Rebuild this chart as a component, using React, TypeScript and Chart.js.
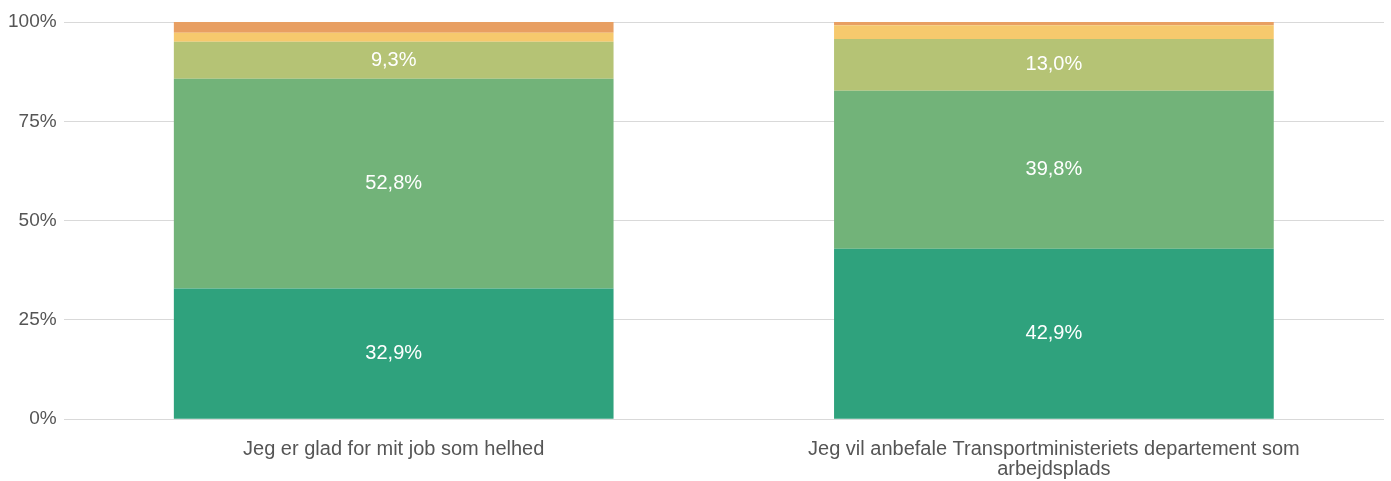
import React, { useEffect, useRef } from "react";
import { Chart, registerables } from "chart.js";

Chart.register(...registerables);

const categories: (string | string[])[] = [
  "Jeg er glad for mit job som helhed",
  ["Jeg vil anbefale Transportministeriets departement som", "arbejdsplads"],
];

const seriesNames = ["Helt enig", "Enig", "Hverken/eller", "Uenig", "Helt uenig"];
const s1 = [32.9, 42.9];
const s2 = [52.8, 39.8];
const s3 = [9.3, 13.0];
const s4 = [2.3, 3.5];
const s5 = [2.7, 0.8];
const colors = ["#2fa27d", "#72b379", "#b5c375", "#f6c96d", "#e89f62"];
const yTicks = [0, 25, 50, 75, 100];

const FONT = "'Liberation Sans', Arial, sans-serif";

const labelPlugin = {
  id: "segLabels",
  afterDatasetsDraw(chart: any) {
    const ctx = chart.ctx;
    ctx.save();
    ctx.font = "20px " + FONT;
    ctx.fillStyle = "#ffffff";
    ctx.textAlign = "center";
    ctx.textBaseline = "middle";
    chart.data.datasets.forEach((ds: any, di: number) => {
      const meta = chart.getDatasetMeta(di);
      meta.data.forEach((bar: any, i: number) => {
        const v = ds.data[i];
        if (v < 5) return;
        const y = (bar.y + bar.base) / 2;
        ctx.fillText(v.toFixed(1).replace(".", ",") + "%", bar.x, y);
      });
    });
    ctx.restore();
  },
};

export default function App() {
  const ref = useRef<HTMLCanvasElement | null>(null);
  useEffect(() => {
    if (!ref.current) return;
    const data = [s1, s2, s3, s4, s5];
    const chart = new Chart(ref.current, {
      type: "bar",
      data: {
        labels: categories,
        datasets: data.map((d, i) => ({
          label: seriesNames[i],
          data: d,
          backgroundColor: colors[i],
          borderWidth: 0,
          categoryPercentage: 1,
          barPercentage: 0.666,
        })),
      },
      options: {
        animation: false,
        responsive: true,
        maintainAspectRatio: false,
        layout: { padding: { left: 1, right: 7, top: 22, bottom: -11 } },
        plugins: { legend: { display: false }, tooltip: { enabled: false } },
        scales: {
          x: {
            stacked: true,
            grid: { display: false },
            border: { display: false },
            ticks: {
              color: "#555555",
              padding: 12,
              maxRotation: 0,
              font: { size: 20, family: FONT, lineHeight: 1.02 },
            },
          },
          y: {
            stacked: true,
            min: 0,
            max: 100,
            afterBuildTicks: (axis: any) => {
              axis.ticks = yTicks.map((v) => ({ value: v }));
            },
            grid: { color: "#d9d9d9", drawTicks: false },
            border: { display: false },
            ticks: {
              color: "#555555",
              padding: 7,
              callback: (v: any) => v + "%",
              font: { size: 19, family: FONT },
            },
          },
        },
      },
      plugins: [labelPlugin],
    });
    return () => chart.destroy();
  }, []);
  return (
    <div style={{ position: "absolute", left: 0, top: 0, width: 1391, height: 481 }}>
      <canvas ref={ref} />
    </div>
  );
}
